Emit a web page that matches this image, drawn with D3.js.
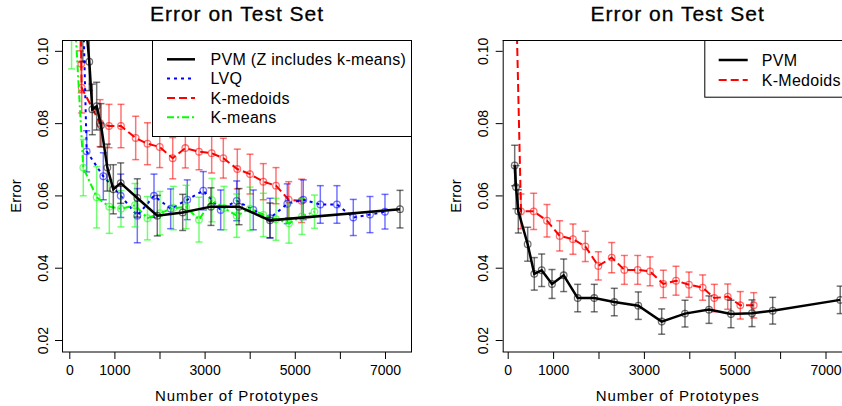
<!DOCTYPE html>
<html lang="en">
<head>
<meta charset="UTF-8">
<script src="https://cdn.jsdelivr.net/npm/d3@7"></script>
<style>
    * { margin: 0; padding: 0; }
    body { background: #ffffff; }
    svg { display: block; font-family: "Liberation Sans", Arial, sans-serif; }
</style>
<title>Error on Test Set</title>
</head>
<body>
<script>
const width = 842;
const height = 406;

// axis ticks
const xTicks = [0, 1000, 2000, 3000, 4000, 5000, 6000, 7000];
const xTickLabels = [0, 1000, 3000, 5000, 7000];
const yTicks = [0.02, 0.04, 0.06, 0.08, 0.10];

// left panel: PVM (Z includes k-means)
const pvmLeftX = [300, 443, 510, 607, 703, 843, 976, 1140, 1508, 1951, 2514, 3142, 3763, 4450, 7333];
const pvmLeftY = [0.117, 0.0970, 0.0838, 0.0847, 0.0794, 0.0677, 0.0617, 0.0634, 0.0593, 0.0544, 0.0553, 0.0569, 0.0569, 0.0531, 0.0562];
const pvmLeftErr = [0.02, 0.008, 0.007, 0.0066, 0.006, 0.0065, 0.0068, 0.0056, 0.0053, 0.0056, 0.005, 0.0052, 0.005, 0.0048, 0.0052];

// left panel: LVQ
const lvqX = [250, 385, 754, 1140, 1508, 1878, 2248, 2616, 2971, 3357, 3712, 4080, 4450, 4834, 5188, 5566, 5935, 6297, 6667, 7000];
const lvqY = [0.14, 0.0722, 0.0653, 0.0599, 0.0544, 0.0599, 0.0563, 0.0588, 0.0613, 0.0560, 0.0585, 0.0560, 0.0537, 0.0577, 0.0588, 0.0575, 0.0575, 0.0539, 0.0547, 0.0555];
const lvqErr = [0.02, 0.0057, 0.0065, 0.006, 0.0075, 0.006, 0.0055, 0.0055, 0.0053, 0.0055, 0.0055, 0.0055, 0.0055, 0.0055, 0.0055, 0.0052, 0.0052, 0.005, 0.005, 0.0048];

// left panel: K-medoids
const kmedLeftX = [240, 265, 275, 681, 880, 1146, 1472, 1733, 2005, 2293, 2573, 2876, 3157, 3415, 3725, 4007, 4302, 4583, 4865, 5150];
const kmedLeftY = [0.13, 0.0964, 0.0898, 0.0800, 0.0792, 0.0792, 0.0759, 0.0743, 0.0734, 0.0703, 0.0731, 0.0721, 0.0717, 0.0703, 0.0673, 0.0659, 0.0638, 0.0627, 0.0588, 0.0585];
const kmedLeftErr = [0.03, 0.008, 0.007, 0.0065, 0.006, 0.006, 0.006, 0.0058, 0.0057, 0.0057, 0.0055, 0.005, 0.0055, 0.0055, 0.0055, 0.0055, 0.005, 0.005, 0.005, 0.006];

// left panel: K-means
const kmeansX = [50, 310, 607, 887, 1146, 1457, 1733, 2011, 2306, 2588, 2876, 3164, 3430, 3712, 4007, 4302, 4583, 4871, 5160, 5437];
const kmeansY = [0.125, 0.0677, 0.0595, 0.0569, 0.0563, 0.0573, 0.0537, 0.0551, 0.0565, 0.0568, 0.0533, 0.0587, 0.0565, 0.0544, 0.0563, 0.0546, 0.0534, 0.0523, 0.0542, 0.0555];
const kmeansErr = [0.03, 0.0078, 0.0085, 0.0074, 0.005, 0.006, 0.006, 0.006, 0.006, 0.006, 0.0062, 0.006, 0.006, 0.006, 0.006, 0.006, 0.0058, 0.0055, 0.005, 0.0046];

// right panel: PVM
const pvmRightX = [154, 183, 234, 440, 586, 749, 976, 1233, 1542, 1907, 2348, 2877, 3392, 3905, 4434, 4918, 5381, 5837, 7324];
const pvmRightY = [0.0683, 0.0623, 0.0556, 0.0465, 0.0383, 0.0393, 0.0355, 0.0379, 0.0316, 0.0316, 0.0305, 0.0295, 0.0251, 0.0273, 0.0284, 0.0272, 0.0274, 0.0281, 0.0311];
const pvmRightErr = [0.0056, 0.006, 0.006, 0.0047, 0.0045, 0.0045, 0.004, 0.0045, 0.0038, 0.0038, 0.0038, 0.0038, 0.0035, 0.0037, 0.0038, 0.0038, 0.0037, 0.0037, 0.0038];

// right panel: K-Medoids
const kmedRightX = [150, 293, 572, 866, 1145, 1438, 1709, 1996, 2291, 2570, 2863, 3135, 3428, 3707, 3993, 4295, 4551, 4846, 5123, 5419];
const kmedRightY = [0.134, 0.0556, 0.0556, 0.0530, 0.0488, 0.0479, 0.0459, 0.0405, 0.0428, 0.0394, 0.0394, 0.0390, 0.0355, 0.0364, 0.0353, 0.0345, 0.0316, 0.0320, 0.0296, 0.0296];
const kmedRightErr = [0.03, 0.0048, 0.005, 0.0045, 0.0042, 0.0042, 0.0042, 0.0039, 0.0042, 0.004, 0.004, 0.004, 0.0038, 0.004, 0.0035, 0.0035, 0.0038, 0.0035, 0.0038, 0.0035];

function makeSeries(xs, ys, es) {
    return xs.map((x, i) => ({ x: x, y: ys[i], e: es[i] }));
}

const styles = {
    pvm: { color: "#000000", dash: null, lw: 2.5 },
    lvq: { color: "#0000ff", dash: "3,4", lw: 2 },
    kmed: { color: "#ff0000", dash: "8,4", lw: 2 },
    kmeans: { color: "#00ff00", dash: "7,3,2,3", lw: 2 }
};

const panels = [
    {
        id: "left",
        left: 62, right: 412, top: 40, bottom: 352,
        xDomain: [-162, 7599],
        series: [
            { label: "K-medoids", style: styles.kmed, data: makeSeries(kmedLeftX, kmedLeftY, kmedLeftErr) },
            { label: "LVQ", style: styles.lvq, data: makeSeries(lvqX, lvqY, lvqErr) },
            { label: "K-means", style: styles.kmeans, data: makeSeries(kmeansX, kmeansY, kmeansErr) },
            { label: "PVM (Z includes k-means)", style: styles.pvm, data: makeSeries(pvmLeftX, pvmLeftY, pvmLeftErr) }
        ],
        legendOrder: ["PVM (Z includes k-means)", "LVQ", "K-medoids", "K-means"],
        legend: { x: 152, y: 40, w: 260, h: 97, rowY: 19.3, lineX: 15, lineW: 28, textX: 58.5 }
    },
    {
        id: "right",
        left: 502.7, right: 852.7, top: 40, bottom: 352,
        xDomain: [-110, 7599],
        series: [
            { label: "K-Medoids", style: styles.kmed, data: makeSeries(kmedRightX, kmedRightY, kmedRightErr) },
            { label: "PVM", style: styles.pvm, data: makeSeries(pvmRightX, pvmRightY, pvmRightErr) }
        ],
        legendOrder: ["PVM", "K-Medoids"],
        legend: { x: 704.3, y: 40, w: 148.4, h: 57.7, rowY: 20, lineX: 14.4, lineW: 29, textX: 57.4 }
    }
];

const yDomain = [0.01668, 0.1030];

let svg = d3.select("body").append("svg")
    .attr("width", width)
    .attr("height", height);

panels.forEach(drawPanel);

function drawPanel(p) {
    const x = d3.scaleLinear().domain(p.xDomain).range([p.left, p.right]);
    const y = d3.scaleLinear().domain(yDomain).range([p.bottom, p.top]);
    const g = svg.append("g").attr("class", "panel-" + p.id);

    svg.append("clipPath").attr("id", "clip-" + p.id)
        .append("rect")
        .attr("x", p.left).attr("y", p.top)
        .attr("width", p.right - p.left).attr("height", p.bottom - p.top);

    const plot = g.append("g").attr("clip-path", `url(#clip-${p.id})`);

    p.series.forEach(s => {
        const c = s.style.color;
        const sg = plot.append("g");
        // error bars
        const bars = sg.selectAll("g.bar").data(s.data).enter().append("g")
            .attr("class", "bar")
            .attr("stroke", c)
            .attr("stroke-opacity", 0.55)
            .attr("stroke-width", 1.5);
        bars.append("line")
            .attr("x1", d => x(d.x)).attr("x2", d => x(d.x))
            .attr("y1", d => y(d.y + d.e)).attr("y2", d => y(d.y - d.e));
        bars.append("line")
            .attr("x1", d => x(d.x) - 3.5).attr("x2", d => x(d.x) + 3.5)
            .attr("y1", d => y(d.y + d.e)).attr("y2", d => y(d.y + d.e));
        bars.append("line")
            .attr("x1", d => x(d.x) - 3.5).attr("x2", d => x(d.x) + 3.5)
            .attr("y1", d => y(d.y - d.e)).attr("y2", d => y(d.y - d.e));

        // connecting line
        sg.append("path")
            .datum(s.data)
            .attr("fill", "none")
            .attr("stroke", c)
            .attr("stroke-width", s.style.lw)
            .attr("stroke-dasharray", s.style.dash)
            .attr("d", d3.line().x(d => x(d.x)).y(d => y(d.y)));

        // open circles
        sg.selectAll("circle").data(s.data).enter().append("circle")
            .attr("cx", d => x(d.x))
            .attr("cy", d => y(d.y))
            .attr("r", 3.3)
            .attr("fill", "none")
            .attr("stroke", c)
            .attr("stroke-opacity", 0.55)
            .attr("stroke-width", 1.3);
    });

    // axes
    const xAxis = d3.axisBottom(x)
        .tickValues(xTicks)
        .tickSize(7)
        .tickPadding(6)
        .tickFormat(d => xTickLabels.includes(d) ? String(d) : "");
    const gx = g.append("g")
        .attr("transform", `translate(0,${p.bottom})`)
        .call(xAxis);
    gx.select(".domain").remove();
    gx.selectAll("text").attr("font-size", 14).attr("font-family", null).attr("fill", "#000");

    const yAxis = d3.axisLeft(y)
        .tickValues(yTicks)
        .tickSize(7)
        .tickFormat(d3.format(".2f"));
    const gy = g.append("g")
        .attr("transform", `translate(${p.left},0)`)
        .call(yAxis);
    gy.select(".domain").remove();
    gy.selectAll("text")
        .attr("font-size", 14)
        .attr("font-family", null)
        .attr("fill", "#000")
        .attr("x", null)
        .attr("dy", "0.36em")
        .attr("text-anchor", "middle")
        .attr("transform", "translate(-19.5,0) rotate(-90)");

    // frame
    g.append("line").attr("x1", p.left).attr("x2", p.right).attr("y1", p.top + 0.5).attr("y2", p.top + 0.5).attr("stroke", "#000");
    g.append("line").attr("x1", p.left).attr("x2", p.right).attr("y1", p.bottom).attr("y2", p.bottom).attr("stroke", "#000").attr("stroke-width", 1.2);
    g.append("line").attr("x1", p.left + 0.5).attr("x2", p.left + 0.5).attr("y1", p.top).attr("y2", p.bottom).attr("stroke", "#000");
    g.append("line").attr("x1", p.right - 0.5).attr("x2", p.right - 0.5).attr("y1", p.top).attr("y2", p.bottom).attr("stroke", "#000");

    const cx = (p.left + p.right) / 2;
    const cy = (p.top + p.bottom) / 2;

    g.append("text")
        .attr("x", cx).attr("y", 21)
        .attr("text-anchor", "middle")
        .attr("font-size", 21)
        .attr("letter-spacing", "1px")
        .attr("stroke", "#000")
        .attr("stroke-width", 0.3)
        .text("Error on Test Set");

    g.append("text")
        .attr("x", cx).attr("y", 401)
        .attr("text-anchor", "middle")
        .attr("font-size", 15)
        .attr("letter-spacing", "0.9px")
        .text("Number of Prototypes");

    g.append("text")
        .attr("transform", `translate(${p.left - 46.7},${cy}) rotate(-90)`)
        .attr("dy", "0.36em")
        .attr("text-anchor", "middle")
        .attr("font-size", 15)
        .text("Error");

    // legend
    const L = p.legend;
    const lg = g.append("g").attr("transform", `translate(${L.x},${L.y})`);
    lg.append("rect")
        .attr("x", 0.5).attr("y", 0.5)
        .attr("width", L.w - 1).attr("height", L.h - 1)
        .attr("fill", "#fff")
        .attr("stroke", "#000");
    p.legendOrder.forEach((name, i) => {
        const s = p.series.find(d => d.label === name);
        const ry = L.rowY * (i + 1);
        lg.append("line")
            .attr("x1", L.lineX).attr("x2", L.lineX + L.lineW)
            .attr("y1", ry).attr("y2", ry)
            .attr("stroke", s.style.color)
            .attr("stroke-width", s.style.lw)
            .attr("stroke-dasharray", s.style.dash);
        lg.append("text")
            .attr("x", L.textX).attr("y", ry)
            .attr("dy", "0.36em")
            .attr("font-size", 16)
            .attr("letter-spacing", "0.3px")
            .text(name);
    });
}
</script>
</body>
</html>
